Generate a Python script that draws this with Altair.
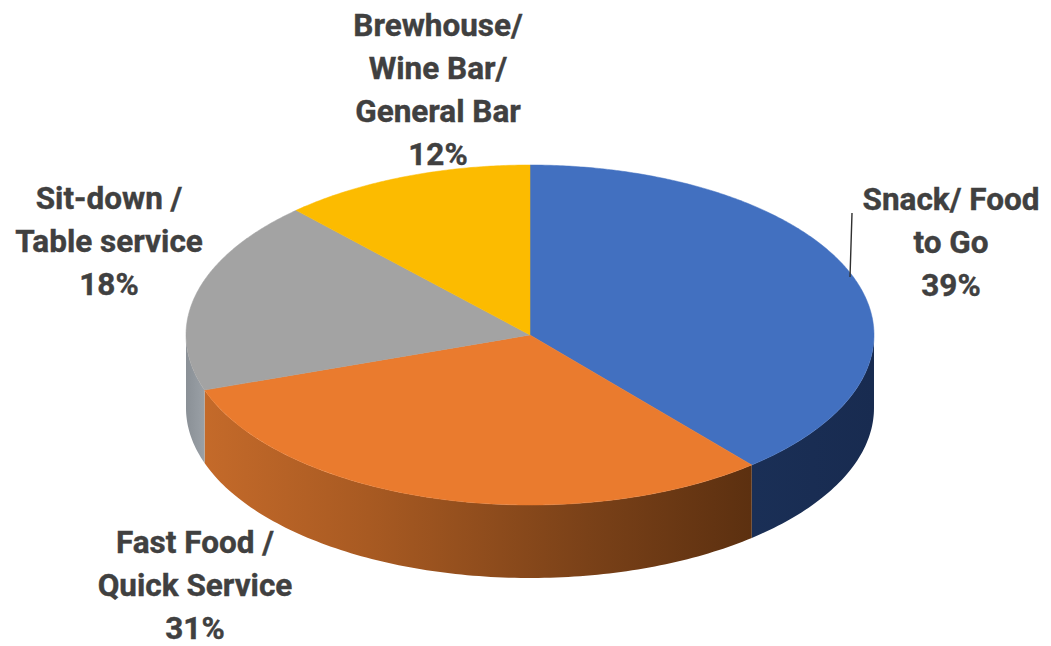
import math
import altair as alt
import pandas as pd

categories = ["Snack/ Food to Go", "Fast Food / Quick Service", "Sit-down / Table service", "Brewhouse/ Wine Bar/ General Bar"]
shares = [38.85, 30.9, 18.35, 11.9]
top_colors = ["#4270C0", "#EA7B2E", "#A3A3A3", "#FCBB00"]
label_lines = [["Snack/ Food", "to Go", "39%"], ["Fast Food /", "Quick Service", "31%"],
               ["Sit-down /", "Table service", "18%"], ["Brewhouse/", "Wine Bar/", "General Bar", "12%"]]

CX, CY, RX, RY, DEPTH = 522, 327, 344, 170, 73
W, H = 1035, 638
FONT = "Roboto"
TEXT = "#404040"
LABEL_POS = [(943, 193), (187, 536), (101, 192), (430, 19)]
LINE_H = 43
LEAD = [(842, 269), (844, 205)]

xs = alt.Scale(domain=[0, W], range=[0, W], nice=False, zero=False)
ys = alt.Scale(domain=[0, H], range=[0, H], nice=False, zero=False)
X = lambda f="x": alt.X(f"{f}:Q", scale=xs, axis=None)
Y = lambda f="y": alt.Y(f"{f}:Q", scale=ys, axis=None)


def pt(a):
    r = math.radians(a)
    return CX + RX * math.sin(r), CY - RY * math.cos(r)


edges = [0]
for s in shares:
    edges.append(edges[-1] + s * 3.6)

layers = []
# side walls: visible part is 90..270 degrees
wall_stops = [
    [("#1A2F56", 0), ("#182B50", 1)],
    [("#C46A2A", 0), ("#A85A22", 0.3), ("#7A4118", 0.7), ("#5C3010", 1)],
    [("#8A9096", 0), ("#9AA0A6", 1)],
]
for i, stops in enumerate(wall_stops):
    a0, a1 = max(edges[i], 90), min(edges[i + 1], 270)
    n = int(a1 - a0) + 1
    rows = []
    for k in range(n + 1):
        x, y = pt(a0 + (a1 - a0) * k / n)
        rows.append({"x": x, "y": y, "y2": y + DEPTH})
    grad = alt.Gradient(gradient="linear", x1=0, x2=1, y1=0, y2=0,
                        stops=[alt.GradientStop(color=c, offset=o) for c, o in sorted(stops, key=lambda s: s[1])])
    layers.append(alt.Chart(pd.DataFrame(rows)).mark_area(color=grad, orient="vertical").encode(
        x=X(), y=Y(), y2="y2:Q"))

# top faces
for i, c in enumerate(top_colors):
    rows = [{"x": CX, "y": CY, "o": 0}]
    n = int(shares[i] * 3.6 * 2)
    for k in range(n + 1):
        x, y = pt(edges[i] + (edges[i + 1] - edges[i]) * k / n)
        rows.append({"x": x, "y": y, "o": k + 1})
    rows.append({"x": CX, "y": CY, "o": n + 2})
    layers.append(alt.Chart(pd.DataFrame(rows)).mark_line(fill=c, stroke=c, strokeWidth=0.5, interpolate="linear-closed").encode(
        x=X(), y=Y(), order="o:Q"))

# leader
layers.append(alt.Chart(pd.DataFrame([{"x": LEAD[0][0], "y": LEAD[0][1], "x2": LEAD[1][0], "y2": LEAD[1][1]}]))
              .mark_rule(color="#303030", strokeWidth=1.4).encode(x=X(), y=Y(), x2="x2:Q", y2="y2:Q"))

# labels
rows = []
for lines, (lx, ly) in zip(label_lines, LABEL_POS):
    for j, t in enumerate(lines):
        rows.append({"x": lx, "y": ly + j * LINE_H, "t": t})
layers.append(alt.Chart(pd.DataFrame(rows)).mark_text(font=FONT, fontWeight="bold", fontSize=31.5, color=TEXT, stroke=TEXT, strokeWidth=0.4, align="center", baseline="middle").encode(
    x=X(), y=Y(), text="t:N"))

chart = alt.layer(*layers).properties(width=W, height=H, padding=0, autosize=alt.AutoSizeParams(type="none")).configure_view(stroke=None)
chart.save("out.html", embed_options={"renderer": "svg", "actions": False})
